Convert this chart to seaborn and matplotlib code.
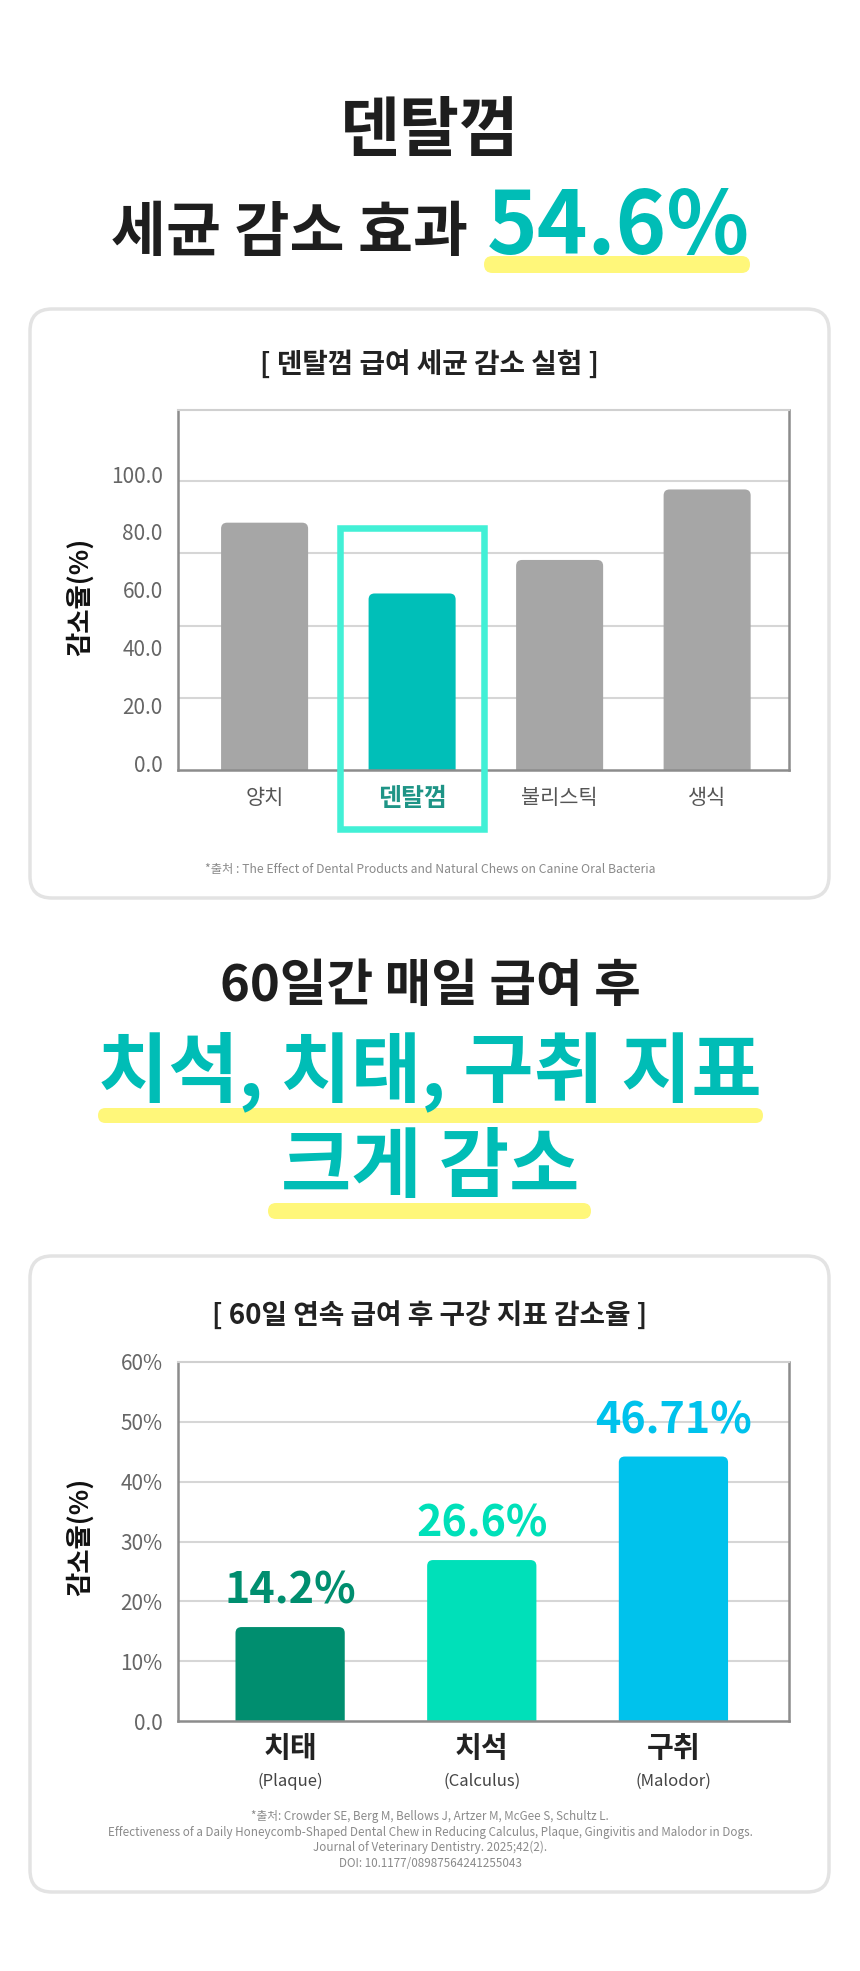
import matplotlib
matplotlib.use("Agg")
import matplotlib.pyplot as plt
import matplotlib.transforms as mtransforms
from matplotlib.patches import FancyBboxPatch, Rectangle
import seaborn as sns

# 차트 1: 덴탈껌 급여 세균 감소 실험
cats1 = ["양치", "덴탈껌", "불리스틱", "생식"]
vals1 = [85.6, 61.1, 72.7, 97.1]
colors1 = ["#A6A6A6", "#00BFB8", "#A6A6A6", "#A6A6A6"]
yticks1 = [0, 20, 40, 60, 80, 100]
ytick_labels1 = ["0.0", "20.0", "40.0", "60.0", "80.0", "100.0"]
grid1 = [25, 50, 75, 100]
highlight1 = "덴탈껌"

# 차트 2: 60일 연속 급여 후 구강 지표 감소율
cats2 = ["치태", "치석", "구취"]
cats2_en = ["(Plaque)", "(Calculus)", "(Malodor)"]
vals2 = [15.7, 26.9, 44.2]
value_labels2 = ["14.2%", "26.6%", "46.71%"]
colors2 = ["#008E6F", "#00E0B9", "#00C2EC"]
yticks2 = [0, 10, 20, 30, 40, 50, 60]
ytick_labels2 = ["0.0", "10%", "20%", "30%", "40%", "50%", "60%"]

TEAL = "#00BDB6"
YELLOW = "#FFF77A"
W, H = 860, 1971

sns.set_style("white")
plt.rcParams["font.family"] = ["Noto Sans CJK KR", "DejaVu Sans"]

fig = plt.figure(figsize=(W / 100, H / 100), dpi=100)
fig.patch.set_facecolor("white")
# 픽셀 좌표 (왼쪽 위 원점)
px = mtransforms.Affine2D().scale(1 / W, -1 / H).translate(0, 1) + fig.transFigure


def add_axes_px(left, top, right, bottom):
    return fig.add_axes([left / W, 1 - bottom / H, (right - left) / W, (bottom - top) / H])


def card(x, y, w, h):
    fig.add_artist(FancyBboxPatch((x, y), w, h, boxstyle="round,pad=0,rounding_size=22",
                                  transform=px, fc="white", ec="#E3E3E3", lw=2.5, zorder=-1))


def marker_line(x0, x1, y0, y1):
    hh = y1 - y0
    fig.add_artist(FancyBboxPatch((x0, y0), x1 - x0, hh,
                                  boxstyle="round,pad=0,rounding_size=%g" % (hh / 2),
                                  transform=px, fc=YELLOW, ec="none", zorder=1))


def ftext(x, y, s, **kw):
    kw.setdefault("ha", "center")
    kw.setdefault("va", "center")
    fig.text(x, y, s, transform=px, zorder=3, **kw)


def style_axes(ax):
    ax.grid(False)
    for side in ["left", "right", "bottom"]:
        ax.spines[side].set_color("#8C8C8C")
        ax.spines[side].set_linewidth(1.8)
    ax.spines["top"].set_color("#D0D0D0")
    ax.spines["top"].set_linewidth(1.5)
    ax.set_xlabel("")
    ax.set_ylabel("")
    ax.tick_params(axis="both", length=0)
    ax.tick_params(axis="y", pad=11, labelsize=15, labelcolor="#666666")


def round_bars(ax, radius=6):
    # 막대 위쪽 모서리만 둥글게 (아래는 축에서 잘림)
    pos = ax.get_position()
    x0, x1 = ax.get_xlim()
    y0, y1 = ax.get_ylim()
    sx = pos.width * W / (x1 - x0)
    sy = pos.height * H / (y1 - y0)
    for bar in list(ax.patches):
        ry = radius / sy
        nb = FancyBboxPatch((bar.get_x(), -ry), bar.get_width(), bar.get_height() + ry,
                            boxstyle="round,pad=0,rounding_size=%g" % (radius / sx),
                            mutation_aspect=sx / sy, fc=bar.get_facecolor(), ec="none",
                            zorder=bar.get_zorder())
        bar.remove()
        ax.add_patch(nb)


# ---- 헤드라인
ftext(430, 131, "덴탈껌", fontsize=47, fontweight="bold", color="#1E1E1E")
ftext(468, 234, "세균 감소 효과", ha="right", fontsize=43, fontweight="bold", color="#1E1E1E")
marker_line(484, 750, 256, 273)
ftext(618, 229, "54.6%", fontsize=62, fontweight=900, color=TEAL)

# ---- 카드 1
card(30, 309, 799, 589)
ftext(430, 364, "[ 덴탈껌 급여 세균 감소 실험 ]", fontsize=20, fontweight="bold", color="#222222")
ftext(80, 597, "감소율(%)", rotation=90, fontsize=19, fontweight="bold", color="#111111")

ax1 = add_axes_px(178, 410, 789, 770)
sns.barplot(x=cats1, y=vals1, hue=cats1, palette=colors1, legend=False,
            width=0.59, saturation=1, ax=ax1)
ax1.set_xlim(-0.587, 3.555)
ax1.set_ylim(0, 124.6)
round_bars(ax1)
for g in grid1:
    ax1.axhline(g, color="#D6D6D6", lw=1.5, zorder=0.5)
style_axes(ax1)
ax1.set_yticks(yticks1, ytick_labels1)
lift = mtransforms.ScaledTranslation(0, 0.07, fig.dpi_scale_trans)
for lab in ax1.get_yticklabels():
    lab.set_transform(lab.get_transform() + lift)
ax1.set_xticks(range(len(cats1)), cats1)
ax1.tick_params(axis="x", pad=12, labelsize=15, labelcolor="#555555")
for lab in ax1.get_xticklabels():
    if lab.get_text() == highlight1:
        lab.set_fontweight("bold")
        lab.set_fontsize(18)
        lab.set_color("#1E9486")

# 덴탈껌 강조 박스
hi = cats1.index(highlight1)
blend1 = mtransforms.blended_transform_factory(ax1.transData, px)
fig.add_artist(Rectangle((hi - 0.49, 528), 0.98, 301, transform=blend1,
                         fill=False, ec="#42F0D6", lw=4.7, zorder=4))

ftext(430, 869, "*출처 : The Effect of Dental Products and Natural Chews on Canine Oral Bacteria",
      fontsize=8.8, color="#8A8A8A")

# ---- 중간 헤드라인
ftext(430, 986, "60일간 매일 급여 후", fontsize=36.5, fontweight="bold", color="#1E1E1E")
marker_line(98, 763, 1108, 1123)
ftext(430, 1072, "치석, 치태, 구취 지표", fontsize=55, fontweight=900, color=TEAL)
marker_line(268, 591, 1203, 1219)
ftext(430, 1168, "크게 감소", fontsize=55, fontweight=900, color=TEAL)

# ---- 카드 2
card(30, 1256, 799, 636)
ftext(430, 1315, "[ 60일 연속 급여 후 구강 지표 감소율 ]", fontsize=20, fontweight="bold", color="#222222")
ftext(80, 1537, "감소율(%)", rotation=90, fontsize=19, fontweight="bold", color="#111111")

ax2 = add_axes_px(178, 1362, 789, 1721)
sns.barplot(x=cats2, y=vals2, hue=cats2, palette=colors2, legend=False,
            width=0.57, saturation=1, ax=ax2)
ax2.set_xlim(-0.585, 2.603)
ax2.set_ylim(0, 60)
round_bars(ax2)
for g in yticks2[1:-1]:
    ax2.axhline(g, color="#D6D6D6", lw=1.5, zorder=0.5)
style_axes(ax2)
ax2.set_yticks(yticks2, ytick_labels2)
ax2.set_xticks(range(len(cats2)), cats2)
ax2.tick_params(axis="x", pad=9, labelsize=21, labelcolor="#222222")
for lab in ax2.get_xticklabels():
    lab.set_fontweight("bold")

blend2 = mtransforms.blended_transform_factory(ax2.transData, px)
for i, en in enumerate(cats2_en):
    ax2.text(i, 1781, en, transform=blend2, ha="center", va="center",
             fontsize=12, color="#444444", clip_on=False)

for i, (v, lab, c) in enumerate(zip(vals2, value_labels2, colors2)):
    ax2.annotate(lab, xy=(i, v), xytext=(0, 26), textcoords="offset points",
                 ha="center", va="center", fontsize=31, fontweight=900, color=c)

ftext(430, 1840,
      "*출처: Crowder SE, Berg M, Bellows J, Artzer M, McGee S, Schultz L.\n"
      "Effectiveness of a Daily Honeycomb-Shaped Dental Chew in Reducing Calculus, Plaque, Gingivitis and Malodor in Dogs.\n"
      "Journal of Veterinary Dentistry. 2025;42(2).\n"
      "DOI: 10.1177/08987564241255043",
      fontsize=8.4, color="#8A8A8A", linespacing=1.25)

fig.savefig("out.png", dpi=100, facecolor="white")
